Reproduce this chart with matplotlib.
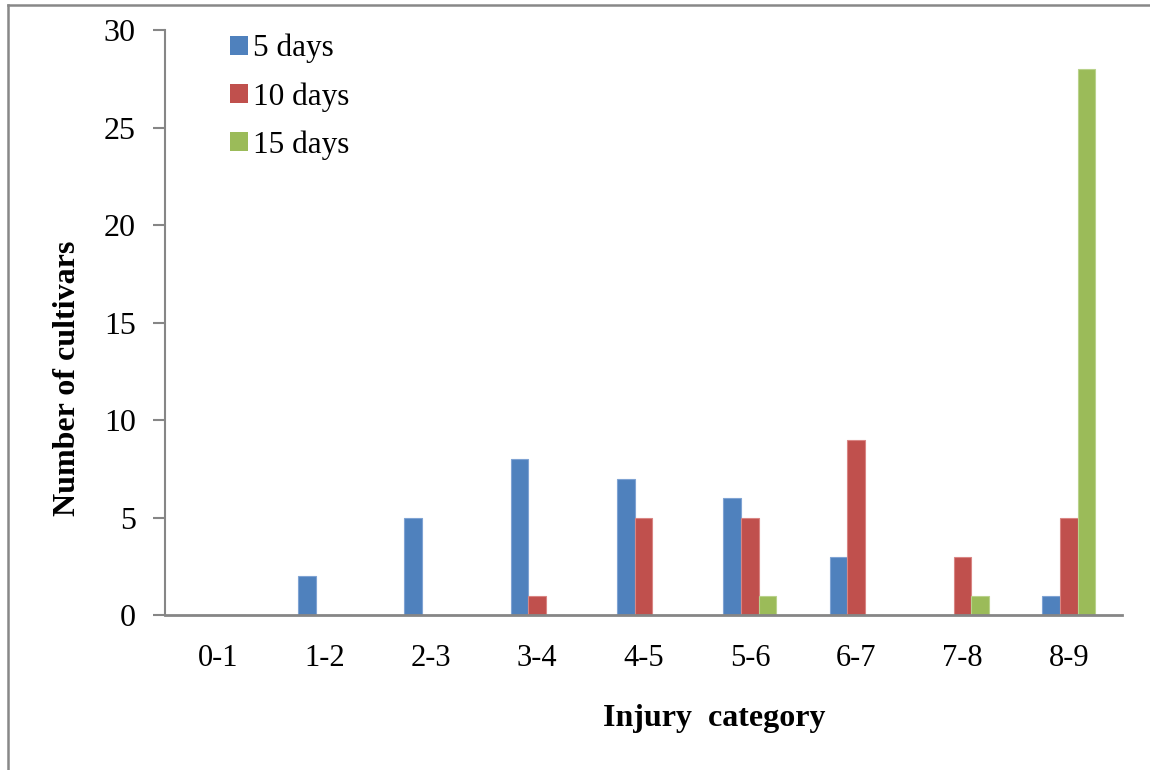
import numpy as np
import matplotlib
matplotlib.use("Agg")
import matplotlib.pyplot as plt
from matplotlib.patches import Patch
from matplotlib.lines import Line2D

categories = ["0-1", "1-2", "2-3", "3-4", "4-5", "5-6", "6-7", "7-8", "8-9"]
days_5 = [0, 2, 5, 8, 7, 6, 3, 0, 1]
days_10 = [0, 0, 0, 1, 5, 5, 9, 3, 5]
days_15 = [0, 0, 0, 0, 0, 1, 0, 1, 28]
series_labels = ["5 days", "10 days", "15 days"]
colors = ["#4F81BD", "#C0504D", "#9BBB59"]
edges = ["#7FA3D3", "#D98583", "#B9D28C"]

plt.rcParams["font.family"] = ["Liberation Serif", "DejaVu Serif"]

fig = plt.figure(figsize=(11.5, 7.7), dpi=100)
ax = fig.add_axes([0.1435, 0.2013, 0.8322, 0.7597])

x = np.arange(len(categories))
width = 1.0 / 6.0
for i, (vals, c, ec) in enumerate(zip([days_5, days_10, days_15], colors, edges)):
    ax.bar(x + (i - 1) * width, vals, width, color=c, edgecolor=ec, linewidth=0.8,
           label=series_labels[i], zorder=2)

ax.set_xlim(-0.5, len(categories) - 0.5)
ax.set_ylim(0, 30)
ax.set_yticks(range(0, 31, 5))
ax.set_xticks(x)
ax.set_xticklabels(categories)

axis_gray = "#868686"
for side in ["top", "right"]:
    ax.spines[side].set_visible(False)
for side in ["left", "bottom"]:
    ax.spines[side].set_color(axis_gray)
    ax.spines[side].set_linewidth(1.5)
ax.spines["bottom"].set_linewidth(2.0)

ax.tick_params(axis="y", direction="out", length=9, width=1.5, color=axis_gray,
               labelsize=23, pad=12)
ax.tick_params(axis="x", length=0, labelsize=22, pad=21)

ax.set_xlabel("Injury  category", fontsize=23, fontweight="bold")
ax.set_ylabel("Number of cultivars", fontsize=23, fontweight="bold")
ax.xaxis.set_label_coords(0.5737, -0.152)
ax.yaxis.set_label_coords(-0.087, 0.405)

handles = [Patch(facecolor=c, edgecolor="none") for c in colors]
leg = ax.legend(handles, series_labels, loc="upper left", bbox_to_anchor=(0.0545, 1.015),
                frameon=False, fontsize=22.5, handlelength=0.58, handleheight=0.58,
                handletextpad=0.18, labelspacing=0.6, borderaxespad=0)

# outer frame lines along the top and left edges
fig.add_artist(Line2D([8 / 1150, 1.0], [1 - 5 / 770, 1 - 5 / 770], transform=fig.transFigure,
                      color="#888888", linewidth=1.8))
fig.add_artist(Line2D([8 / 1150, 8 / 1150], [0.0, 1 - 5 / 770], transform=fig.transFigure,
                      color="#888888", linewidth=1.8))

fig.savefig("out.png", dpi=100, facecolor="white")
